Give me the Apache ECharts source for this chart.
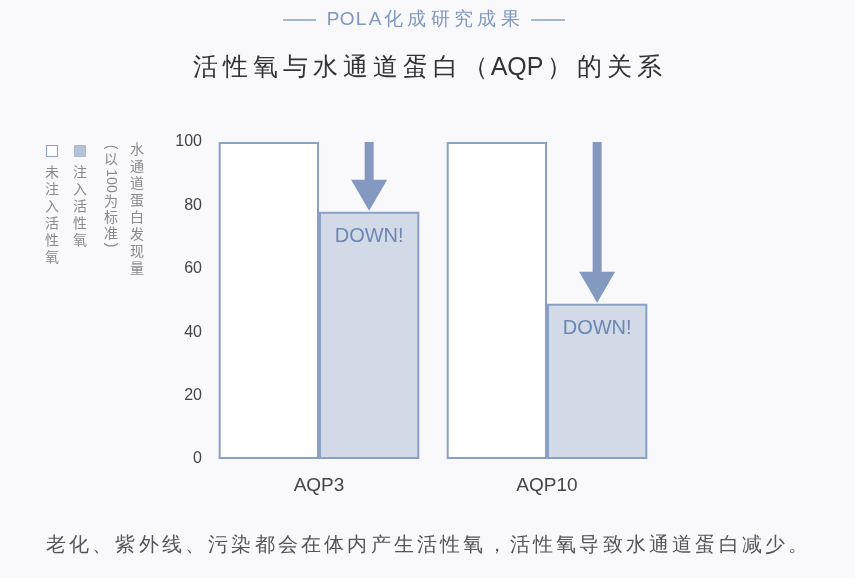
<!DOCTYPE html>
<html>
<head>
<meta charset="utf-8">
<script src="https://cdn.jsdelivr.net/npm/echarts@6/dist/echarts.min.js"></script>
<style>
  html, body { margin: 0; padding: 0; background: #f9f9fb; }
  #main { width: 855px; height: 578px; }
</style>
</head>
<body>
<div id="main"></div>
<script>
const categories = ['AQP3', 'AQP10'];
const notInjected = [100, 100];   // 未注入活性氧
const injected = [78, 49];        // 注入活性氧
const downLabels = ['DOWN!', 'DOWN!'];

const FONT = '"Liberation Sans", "Noto Sans CJK SC", sans-serif';
const BLUE = '#8aa0c4';
const FILL = '#d2dae7';
const GAP = 0.12; // barCategoryGap

// 逐字加间距的富文本
function spaced(str, fs, gap) {
  let out = '';
  for (const ch of str) {
    out += (/[\x00-\x7f]/.test(ch) ? '{l|' : '{c|') + ch + '}';
  }
  return {
    text: out,
    rich: {
      c: { width: fs + gap, align: 'center', fontSize: fs },
      l: { width: fs * 0.62 + gap * 0.5, align: 'center', fontSize: fs }
    }
  };
}

function textEl(str, x, y, fs, gap, color) {
  const s = spaced(str, fs, gap);
  return {
    type: 'text', x: x, y: y,
    style: {
      text: s.text, rich: s.rich, fill: color, fontSize: fs,
      fontFamily: FONT, align: 'center', verticalAlign: 'middle'
    }
  };
}

// 竖排文字
function vText(str, x, y, pitch, fs, color) {
  return {
    type: 'text', x: x, y: y,
    style: {
      text: str.split('').join('\n'), fill: color, fontSize: fs,
      lineHeight: pitch, fontFamily: FONT, align: 'center', verticalAlign: 'top'
    }
  };
}

function rotText(str, x, y, fs, color) {
  return {
    type: 'group', x: x, y: y, rotation: -Math.PI / 2,
    children: [{
      type: 'text', x: 0, y: 0,
      style: {
        text: str, fill: color, fontSize: fs, fontFamily: FONT,
        align: 'center', verticalAlign: 'middle'
      }
    }]
  };
}

const GREY = '#8a8a8a';

const graphics = [
  { type: 'line', shape: { x1: 283, y1: 20, x2: 316, y2: 20 }, style: { stroke: BLUE, lineWidth: 1.5 } },
  { type: 'line', shape: { x1: 531, y1: 20, x2: 565, y2: 20 }, style: { stroke: BLUE, lineWidth: 1.5 } },
  textEl('POLA化成研究成果', 424, 20, 19, 4.3, '#7f97c0'),
  textEl('活性氧与水通道蛋白（AQP）的关系', 427, 68, 25, 5, '#333'),
  textEl('老化、紫外线、污染都会在体内产生活性氧，活性氧导致水通道蛋白减少。', 427, 545, 20, 3.2, '#555'),
  // 图例
  { type: 'rect', shape: { x: 46.5, y: 145.5, width: 11, height: 11 }, style: { fill: '#fff', stroke: BLUE, lineWidth: 1 } },
  { type: 'rect', shape: { x: 74.5, y: 145.5, width: 11, height: 11 }, style: { fill: '#b4c2da', stroke: '#a8b8d4', lineWidth: 1 } },
  vText('未注入活性氧', 52, 165, 17, 14, GREY),
  vText('注入活性氧', 80, 165, 17, 14, GREY),
  // y轴名
  vText('水通道蛋白发现量', 137, 142, 17, 14, GREY),
  rotText('(', 111, 147, 14, GREY),
  vText('以', 111, 152, 16, 14, GREY),
  rotText('100', 111, 181, 14, GREY),
  vText('为标准', 111, 194, 16, 14, GREY),
  rotText(')', 111, 245, 14, GREY)
];

const option = {
  backgroundColor: '#f9f9fb',
  animation: false,
  textStyle: { fontFamily: FONT },
  grid: { left: 205, right: 194, top: 142, bottom: 119 },
  xAxis: {
    type: 'category',
    data: categories,
    axisLine: { show: false },
    axisTick: { show: false },
    axisLabel: { color: '#444', fontSize: 19, margin: 17 }
  },
  yAxis: {
    type: 'value',
    min: 0, max: 100, interval: 20,
    axisLine: { show: false },
    axisTick: { show: false },
    splitLine: { show: false },
    axisLabel: { color: '#444', fontSize: 16, margin: 3 }
  },
  graphic: graphics,
  series: [
    {
      name: '未注入活性氧',
      type: 'bar',
      data: notInjected,
      barGap: 0,
      barCategoryGap: (GAP * 100) + '%',
      itemStyle: { color: '#fff', borderColor: BLUE, borderWidth: 2 }
    },
    {
      name: '注入活性氧',
      type: 'bar',
      data: injected,
      itemStyle: { color: FILL, borderColor: BLUE, borderWidth: 2 },
      label: {
        show: true, position: 'insideTop', distance: 15,
        formatter: p => downLabels[p.dataIndex],
        color: '#6d86b3', fontSize: 20
      }
    },
    {
      name: 'arrow',
      type: 'custom',
      data: injected.map((v, i) => [i, v]),
      encode: { x: 0, y: 1 },
      z: 5,
      renderItem: function (params, api) {
        const i = api.value(0), v = api.value(1);
        const band = api.size([1, 0])[0];
        const bw = band * (1 - GAP) / 2;
        const top = api.coord([i, 100]);
        const tip = api.coord([i, v]);
        const x = top[0] + bw / 2;
        const ty = tip[1] - 1;
        const hy = ty - 31;
        return {
          type: 'polygon',
          shape: {
            points: [
              [x - 4.5, top[1]], [x + 4.5, top[1]], [x + 4.5, hy],
              [x + 18, hy], [x, ty], [x - 18, hy], [x - 4.5, hy]
            ]
          },
          style: { fill: '#8399bf' }
        };
      }
    }
  ]
};

const chart = echarts.init(document.getElementById('main'));
chart.setOption(option);
</script>
</body>
</html>
